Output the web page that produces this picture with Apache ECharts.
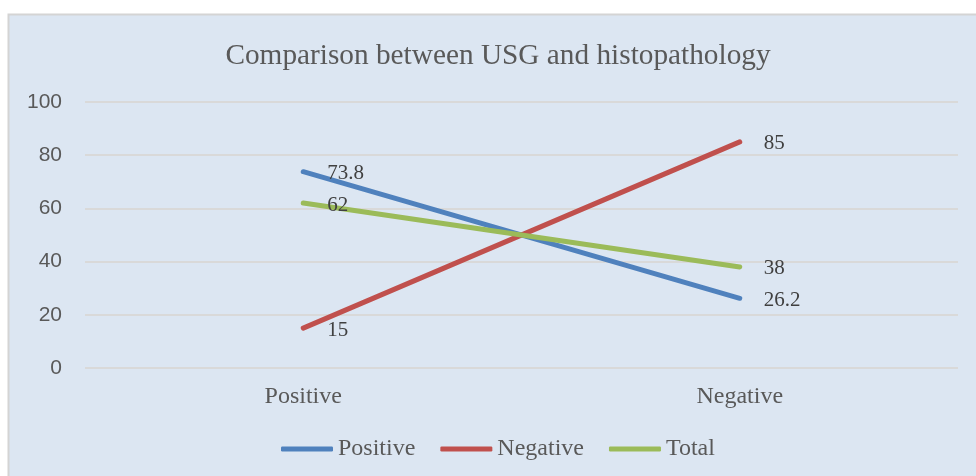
<!DOCTYPE html>
<html><head><meta charset="utf-8">
<script src="https://cdn.jsdelivr.net/npm/echarts@6/dist/echarts.min.js"></script>
<style>html,body{margin:0;padding:0;background:#fff}#c{width:976px;height:476px}</style>
</head><body><div id="c"></div>
<script>
const categories = ['Positive', 'Negative'];
const positiveValues = [73.8, 26.2];
const negativeValues = [15, 85];
const totalValues = [62, 38];
const yTicks = [0, 20, 40, 60, 80, 100];
const titleText = 'Comparison between USG and histopathology';

const serif = '"Liberation Serif", "Times New Roman", serif';
const sans = '"Liberation Sans", Arial, sans-serif';
const colors = ['#4f81bd', '#c0504d', '#9bbb59'];

function mk(name, data, color) {
  return {
    name, type: 'line', data,
    showSymbol: true, symbol: 'circle', symbolSize: 0.01,
    lineStyle: { color, width: 5, cap: 'round' },
    itemStyle: { color },
    label: { show: true, position: 'right', distance: 24, offset: [0, 2], fontFamily: serif, fontSize: 21, color: '#404040' },
    emphasis: { disabled: true },
    animation: false
  };
}

const chart = echarts.init(document.getElementById('c'), null, { renderer: 'canvas' });
chart.setOption({
  backgroundColor: '#ffffff',
  animation: false,
  graphic: [{
    type: 'rect', z: -10, silent: true,
    shape: { x: 8.5, y: 14.5, width: 980, height: 480 },
    style: { fill: '#dce6f2', stroke: '#d4d4d4', lineWidth: 2 }
  }],
  title: {
    text: titleText, left: 493, textAlign: 'center', top: 37,
    textStyle: { fontFamily: serif, fontSize: 29.3, fontWeight: 'normal', color: '#595959' }
  },
  legend: {
    bottom: 10, left: 276,
    icon: 'roundRect', itemWidth: 52, itemHeight: 5, itemGap: 25,
    textStyle: { fontFamily: serif, fontSize: 24, color: '#595959', padding: [0, 0, 0, 0] },
    data: ['Positive', 'Negative', 'Total']
  },
  grid: { left: 85, right: 18, top: 102, bottom: 108 },
  xAxis: {
    type: 'category', data: categories, boundaryGap: true,
    axisLine: { show: false }, axisTick: { show: false },
    axisLabel: { fontFamily: serif, fontSize: 24, color: '#595959', margin: 17 }
  },
  yAxis: {
    type: 'value', min: yTicks[0], max: yTicks[yTicks.length - 1], interval: 20,
    axisLine: { show: false }, axisTick: { show: false },
    axisLabel: { fontFamily: sans, fontSize: 21, color: '#595959', margin: 23 },
    splitLine: { lineStyle: { color: '#d9d9d9', width: 2 } }
  },
  series: [
    mk('Positive', positiveValues, colors[0]),
    mk('Negative', negativeValues, colors[1]),
    mk('Total', totalValues, colors[2])
  ]
});
</script></body></html>
